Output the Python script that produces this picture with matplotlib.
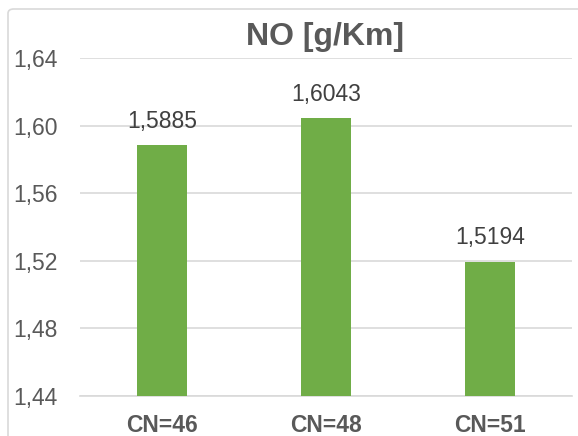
import matplotlib
matplotlib.use('Agg')
import matplotlib.pyplot as plt
from matplotlib.patches import FancyBboxPatch

plt.rcParams['font.family'] = ['Liberation Sans', 'DejaVu Sans']

# NO emissions per cetane number
categories = ['CN=46', 'CN=48', 'CN=51']
no_values = [1.5885, 1.6043, 1.5194]
y_ticks = [1.44, 1.48, 1.52, 1.56, 1.60, 1.64]

grey = '#595959'
grid_grey = '#d9d9d9'
bar_green = '#70ad47'

fig = plt.figure(figsize=(5.78, 4.36), dpi=100)

# chart area outline
frame = FancyBboxPatch((8 / 578, -0.05), 1.2, (436 - 9) / 436 + 0.05,
                       boxstyle='round,pad=0,rounding_size=0.01',
                       transform=fig.transFigure, fill=False,
                       edgecolor=grid_grey, linewidth=1.2)
fig.patches.append(frame)

ax = fig.add_axes([80 / 578, 1 - 396 / 436, (572 - 80) / 578, (396 - 58) / 436])

x = range(len(categories))
bars = ax.bar(x, no_values, width=0.31, color=bar_green, zorder=3)

for rect, val in zip(bars, no_values):
    ax.annotate(f'{val:.4f}'.replace('.', ','),
                xy=(rect.get_x() + rect.get_width() / 2, val),
                xytext=(0, 9), textcoords='offset points',
                ha='center', va='bottom', fontsize=16.5, color='#404040')

ax.set_ylim(1.44, 1.64)
ax.set_xlim(-0.5, 2.5)
ax.set_yticks(y_ticks)
ax.set_yticklabels([f'{t:.2f}'.replace('.', ',') for t in y_ticks])
ax.set_xticks(list(x))
ax.set_xticklabels(categories, fontweight='bold')

ax.tick_params(axis='y', length=0, pad=16, labelsize=16.5, labelcolor=grey)
ax.tick_params(axis='x', length=0, pad=13, labelsize=16.5, labelcolor=grey)

ax.yaxis.grid(True, color=grid_grey, linewidth=1.2, zorder=0)
ax.set_axisbelow(True)
for side in ['top', 'right', 'left']:
    ax.spines[side].set_visible(False)
ax.spines['bottom'].set_color(grid_grey)
ax.spines['bottom'].set_linewidth(1.2)

fig.text(325 / 578, 1 - 37 / 436, 'NO [g/Km]', ha='center', va='center',
         fontsize=23, fontweight='bold', color=grey)

fig.savefig('out.png', dpi=100)
